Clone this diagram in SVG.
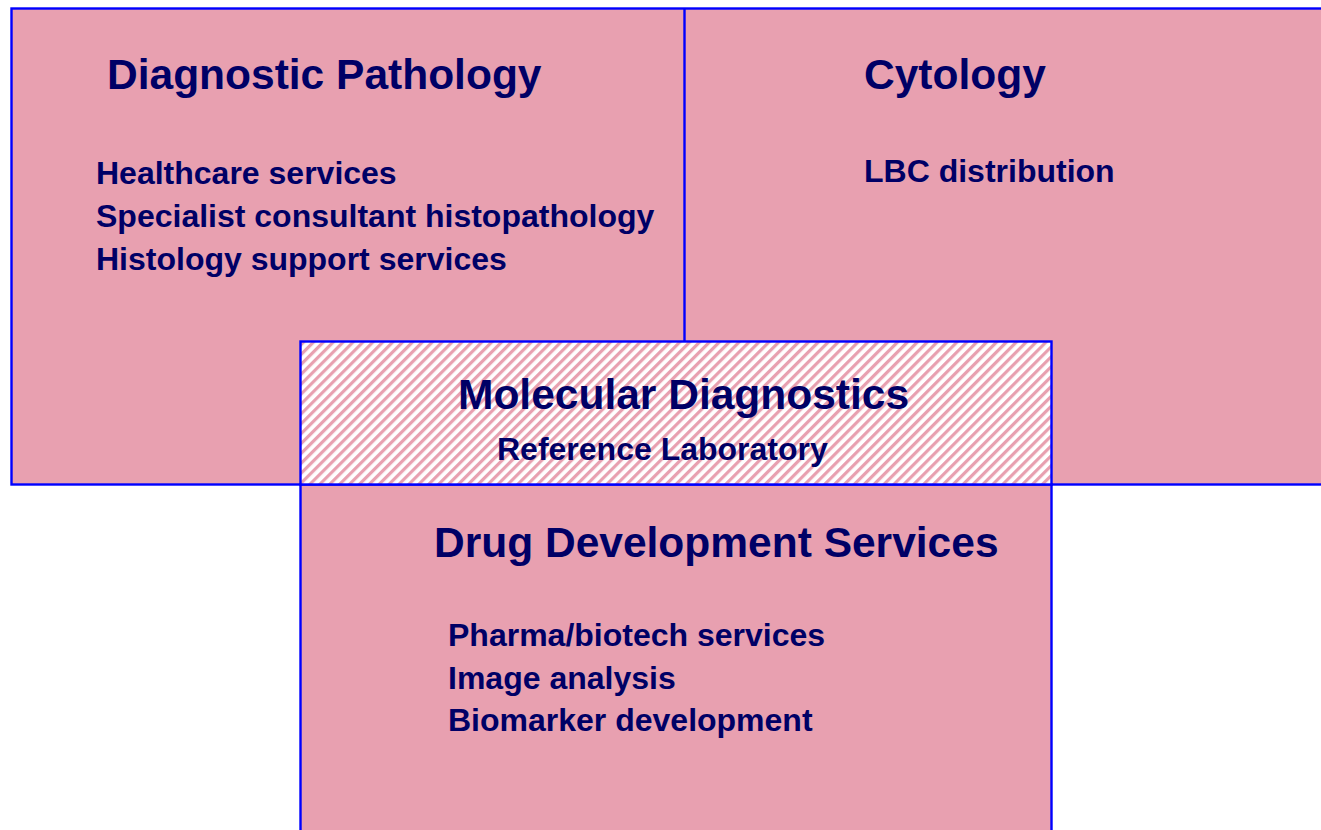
<svg xmlns="http://www.w3.org/2000/svg" width="1321" height="830" viewBox="0 0 1321 830">
  <defs>
    <pattern id="hatch" patternUnits="userSpaceOnUse" width="7" height="7" patternTransform="rotate(45)">
      <rect width="7" height="7" fill="#ffffff"/>
      <rect width="3.2" height="7" fill="#e8a0b0"/>
    </pattern>
    <style>
      .box { fill: #e8a0b0; stroke: #0000ff; stroke-width: 2.4; }
      .title { font-family: "Liberation Sans", Arial, sans-serif; font-weight: bold; font-size: 42.5px; fill: #000066; }
      .item { font-family: "Liberation Sans", Arial, sans-serif; font-weight: bold; font-size: 32px; fill: #000066; }
    </style>
  </defs>
  <rect width="1321" height="830" fill="#ffffff"/>

  <!-- upper panel: pathology and cytology share one frame -->
  <g id="diagnostic-pathology">
    <rect class="box" x="11.5" y="8.5" width="1320" height="476"/>
    <text class="title" x="107" y="89">Diagnostic Pathology</text>
    <text class="item" x="96" y="184">Healthcare services</text>
    <text class="item" x="96" y="227">Specialist consultant histopathology</text>
    <text class="item" x="96" y="270">Histology support services</text>
  </g>

  <g id="cytology">
    <line x1="684.5" y1="8.5" x2="684.5" y2="341" stroke="#0000ff" stroke-width="2.4"/>
    <text class="title" x="864" y="89">Cytology</text>
    <text class="item" x="864" y="182">LBC distribution</text>
  </g>

  <g id="drug-development">
    <rect class="box" x="300.5" y="484.5" width="751" height="360"/>
    <text class="title" x="434" y="557">Drug Development Services</text>
    <text class="item" x="448" y="646">Pharma/biotech services</text>
    <text class="item" x="448" y="689">Image analysis</text>
    <text class="item" x="448" y="731">Biomarker development</text>
  </g>

  <g id="molecular-diagnostics">
    <rect x="300.5" y="341.5" width="751" height="143" fill="url(#hatch)" stroke="#0000ff" stroke-width="2.4"/>
    <text class="title" x="458" y="409">Molecular Diagnostics</text>
    <text class="item" x="497" y="460">Reference Laboratory</text>
  </g>
</svg>
